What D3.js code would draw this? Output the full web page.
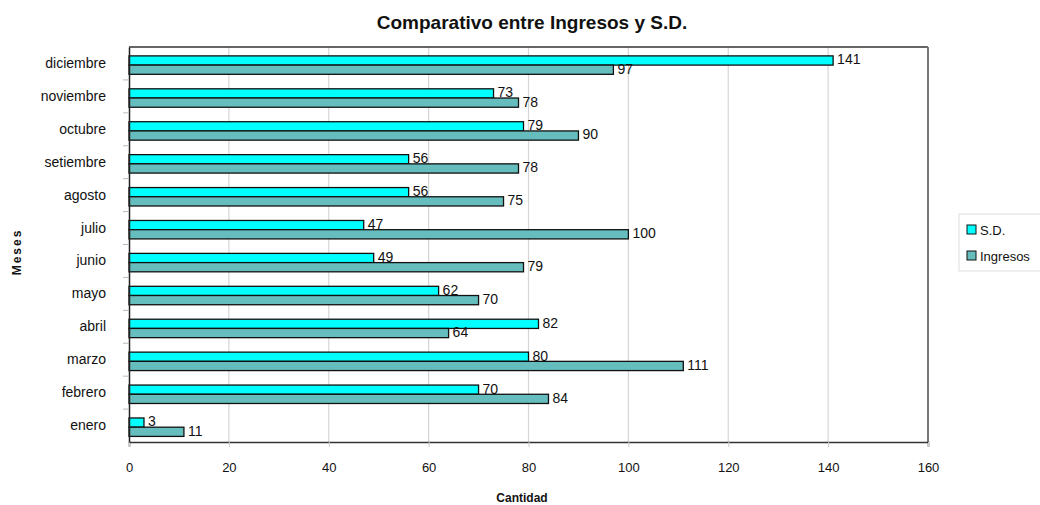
<!DOCTYPE html>
<html><head><meta charset="utf-8">
<script src="https://cdn.jsdelivr.net/npm/d3@7"></script>
<style>body{margin:0;background:#fff}text{font-family:"Liberation Sans",Arial,sans-serif}</style>
</head><body><svg id="c" width="1040" height="505"></svg>
<script>
const months = ["diciembre","noviembre","octubre","setiembre","agosto","julio","junio","mayo","abril","marzo","febrero","enero"];
const sd = [141,73,79,56,56,47,49,62,82,80,70,3];
const ingresos = [97,78,90,78,75,100,79,70,64,111,84,11];
const xTicks = [0,20,40,60,80,100,120,140,160];
const seriesNames = ["S.D.","Ingresos"];
const seriesColors = ["#00FFFF","#66BDBD"];

const svg = d3.select("#c");
const L=129,R=928,T=47,B=442;
const x = d3.scaleLinear().domain([0,160]).range([L,R]);
const y = d3.scaleBand().domain(months).range([T,B]);
const inner = d3.scaleBand().domain(seriesNames).range([y.bandwidth()*0.27, y.bandwidth()*0.83]);

// grid
svg.append("g").selectAll("line").data(xTicks.slice(1,-1)).join("line")
  .attr("x1",d=>x(d)).attr("x2",d=>x(d)).attr("y1",T).attr("y2",B)
  .attr("stroke","#d6d6d6").attr("stroke-width",1.2);

// frame
svg.append("line").attr("x1",L).attr("x2",R).attr("y1",T).attr("y2",T).attr("stroke","#333").attr("stroke-width",1.5);
svg.append("line").attr("x1",R).attr("x2",R).attr("y1",T).attr("y2",B).attr("stroke","#777").attr("stroke-width",2);

const data = months.map((m,i)=>({m, vals:[sd[i],ingresos[i]]}));
const g = svg.append("g").selectAll("g").data(data).join("g").attr("transform",d=>`translate(0,${y(d.m)})`);
g.selectAll("rect").data(d=>d.vals.map((v,j)=>({v,s:seriesNames[j],j}))).join("rect")
  .attr("x",x(0)).attr("y",d=>inner(d.s)).attr("width",d=>x(d.v)-x(0)).attr("height",inner.bandwidth())
  .attr("fill",d=>seriesColors[d.j]).attr("stroke","#111").attr("stroke-width",1.3);
g.selectAll("text").data(d=>d.vals.map((v,j)=>({v,s:seriesNames[j],j}))).join("text")
  .attr("x",d=>x(d.v)+4).attr("y",d=>inner(d.s)+inner.bandwidth()/2-1).attr("dy","0.35em")
  .attr("font-size",14).attr("fill","#111").text(d=>d.v);

// axes
const ax = svg.append("g").attr("transform",`translate(0,${B})`)
  .call(d3.axisBottom(x).tickValues(xTicks).tickSize(5).tickPadding(16));
ax.select(".domain").attr("stroke","#333").attr("stroke-width",1.5);
ax.selectAll(".tick line").attr("stroke","#ccc");
ax.selectAll("text").attr("font-size",13).attr("fill","#111").style("font-family",'"Liberation Sans",Arial,sans-serif');

const ay = svg.append("g").attr("transform",`translate(${L},0)`)
  .call(d3.axisLeft(y).tickSize(0).tickPadding(23));
ay.select(".domain").attr("stroke","#222").attr("stroke-width",1.5);
ay.selectAll("text").attr("font-size",14).attr("fill","#111").style("font-family",'"Liberation Sans",Arial,sans-serif');
svg.append("g").selectAll("line").data(months.slice(1)).join("line")
  .attr("x1",L-6).attr("x2",L).attr("y1",d=>y(d)).attr("y2",d=>y(d)).attr("stroke","#bbb");

// titles
svg.append("text").attr("x",532).attr("y",29).attr("text-anchor","middle").attr("font-size",19).attr("font-weight","bold").attr("fill","#111").text("Comparativo entre Ingresos y S.D.");
svg.append("text").attr("x",522).attr("y",502).attr("text-anchor","middle").attr("font-size",12).attr("font-weight","bold").attr("fill","#111").text("Cantidad");
svg.append("text").attr("transform","translate(21,252) rotate(-90)").attr("text-anchor","middle").attr("font-size",12).attr("font-weight","bold").attr("letter-spacing","2px").attr("fill","#111").text("Meses");

// legend
const lg = svg.append("g");
lg.append("rect").attr("x",959).attr("y",214).attr("width",90).attr("height",57).attr("fill","#fff").attr("stroke","#ddd");
const li = lg.selectAll("g").data(seriesNames).join("g").attr("transform",(d,i)=>`translate(967,${230+i*26})`);
li.append("rect").attr("x",0).attr("y",-5).attr("width",9).attr("height",9).attr("fill",(d,i)=>seriesColors[i]).attr("stroke","#111");
li.append("text").attr("x",13).attr("y",0).attr("dy","0.35em").attr("font-size",13).attr("fill","#111").text(d=>d);
</script></body></html>
